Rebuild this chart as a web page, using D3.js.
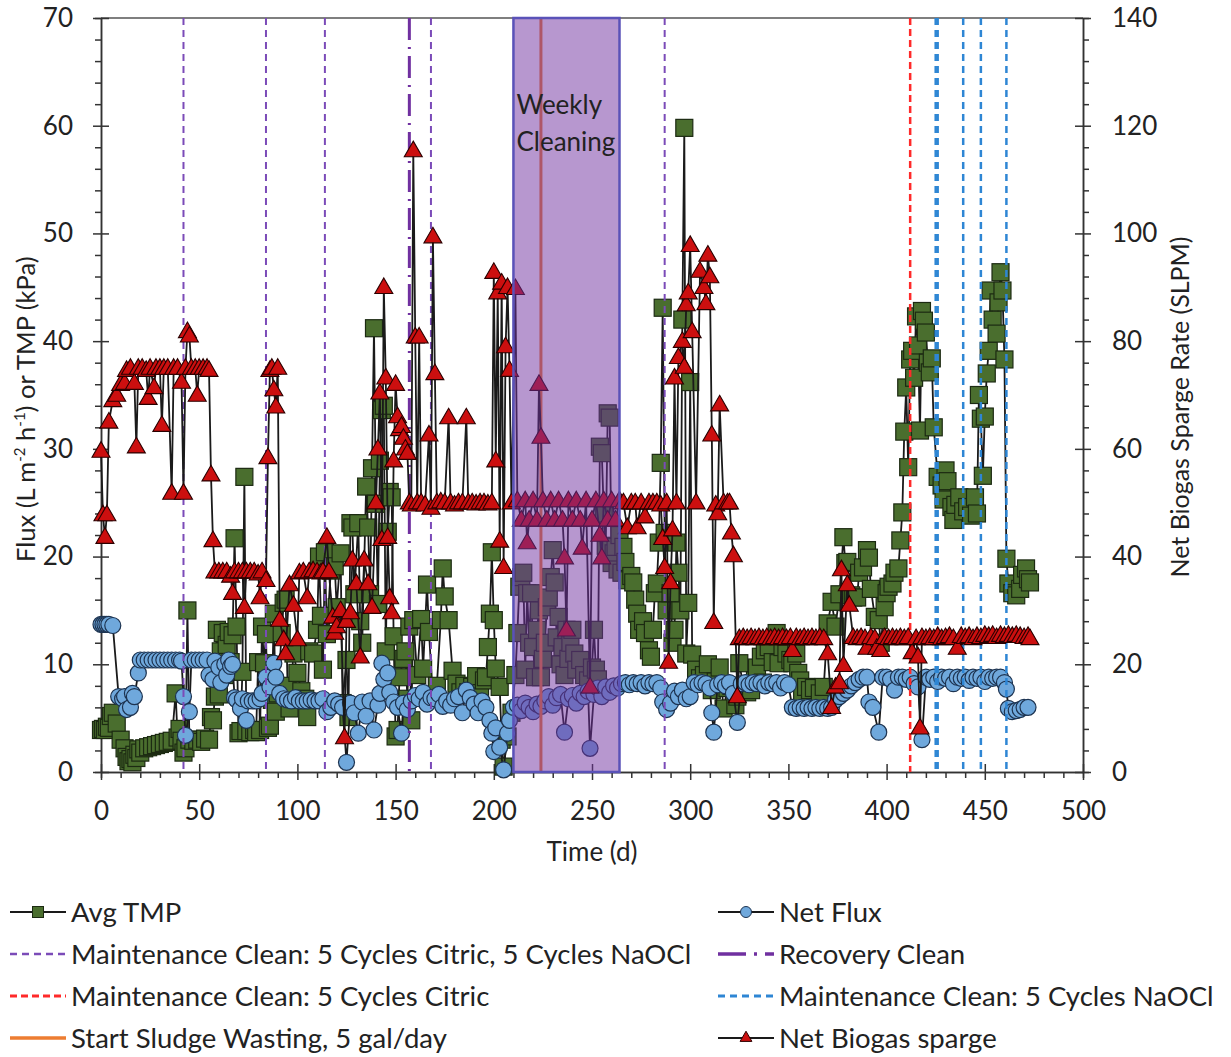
<!DOCTYPE html>
<html>
<head>
<meta charset="utf-8">
<script src="https://d3js.org/d3.v7.min.js"></script>
<style>
  body { margin: 0; background: #fff; }
  text { font-family: Lato, "Liberation Sans", sans-serif; fill: #222; }
</style>
</head>
<body>
<div id="my_dataviz"></div>
<script>

// ---- data ----
// day, kPa
var avgTMP = [[0,3.9],[1,4.0],[2,3.9],[3,4.2],[4,4.1],[5,5.2],[6,5.5],[8,4.5],[10,3.0],[12,2.2],[13,1.4],[14,1.0],[15,1.2],[16,0.9],[17,1.6],[18,1.3],[19,2.1],[20,1.8],[22,2.2],[24,2.3],[26,2.4],[28,2.5],[30,2.6],[32,2.7],[34,2.8],[36,2.9],[38,7.3],[39,3.2],[40,4.0],[41,2.9],[42,1.8],[43,2.2],[44,15.0],[45,3.0],[47,2.9],[49,3.0],[51,2.8],[53,3.1],[55,3.0],[56,5.1],[57,4.8],[58,7.0],[59,13.2],[60,7.2],[61,11.2],[62,12.9],[63,9.0],[64,11.8],[65,13.0],[66,10.2],[67,12.7],[68,21.7],[69,13.5],[70,3.6],[71,3.8],[72,9.3],[73,27.4],[74,3.8],[76,3.7],[78,3.9],[79,3.7],[80,10.2],[81,3.9],[82,13.5],[83,10.1],[84,12.8],[85,4.1],[86,4.3],[87,6.7],[88,14.7],[89,5.6],[90,7.3],[92,12.9],[93,15.7],[94,16.0],[95,8.0],[96,5.9],[98,11.0],[100,9.2],[102,7.5],[104,6.8],[105,5.1],[106,11.2],[108,11.0],[110,13.2],[111,20.0],[112,14.5],[113,9.5],[114,20.4],[115,12.8],[117,18.7],[119,19.1],[120,15.3],[122,20.3],[123,6.4],[125,10.4],[126,5.1],[127,23.1],[128,22.7],[129,16.5],[131,23.1],[132,14.0],[133,12.0],[135,26.5],[136,22.7],[137,16.5],[138,28.2],[139,41.2],[140,24.9],[141,15.6],[142,28.9],[143,33.6],[144,34.0],[145,11.2],[146,22.3],[147,26.0],[148,25.5],[149,12.6],[150,3.3],[151,3.9],[152,8.8],[154,10.5],[155,11.2],[156,6.8],[157,13.5],[158,4.8],[159,14.1],[161,9.0],[163,14.2],[164,9.6],[166,17.4],[167,13.0],[169,6.8],[171,8.0],[173,14.1],[174,18.9],[175,16.3],[177,14.1],[179,9.4],[181,8.2],[183,7.4],[185,8.0],[187,7.4],[189,7.9],[191,8.9],[193,7.0],[195,8.5],[196,8.8],[197,11.6],[198,14.7],[199,20.4],[200,14.1],[201,9.6],[203,7.9],[204,3.0],[205,0.5],[207,3.3],[209,5.5],[211,9.0],[212,12.9],[213,17.2],[214,18.1],[215,18.5],[216,9.5],[217,16.6],[218,12.0],[219,16.6],[220,11.6],[221,8.8],[222,13.2],[223,15.0],[224,8.8],[225,10.5],[226,12.0],[227,15.3],[228,16.2],[229,18.1],[230,20.6],[231,17.6],[232,12.5],[233,14.4],[234,10.0],[235,11.6],[236,9.0],[237,13.2],[238,10.5],[239,12.0],[240,13.2],[241,11.0],[242,9.5],[244,10.4],[246,9.0],[248,8.5],[250,9.7],[251,13.2],[252,9.5],[253,8.6],[254,30.2],[255,29.6],[256,24.0],[257,21.0],[258,33.3],[259,32.9],[260,19.4],[261,20.3],[262,20.9],[263,18.8],[264,22.0],[265,18.5],[266,20.9],[267,19.5],[268,17.8],[270,18.2],[271,17.6],[272,16.0],[273,14.7],[274,13.2],[276,14.0],[277,12.9],[279,11.3],[280,10.7],[281,13.2],[282,16.6],[283,17.5],[284,21.3],[285,28.7],[286,43.1],[287,22.2],[288,15.0],[290,16.6],[291,12.0],[292,13.2],[293,21.3],[294,18.5],[295,15.0],[296,42.0],[297,59.8],[298,11.0],[299,15.7],[300,36.2],[301,10.9],[303,9.5],[305,8.7],[307,9.0],[309,10.0],[311,7.6],[313,8.4],[315,9.7],[317,5.9],[319,7.8],[321,8.0],[323,6.2],[324,7.0],[325,10.1],[327,8.0],[329,7.4],[331,7.6],[333,8.5],[334,9.7],[336,10.7],[337,8.3],[338,11.3],[340,11.6],[342,10.2],[344,12.9],[345,10.1],[347,11.6],[349,11.0],[351,10.4],[352,10.1],[354,11.0],[355,9.2],[356,8.5],[357,7.3],[359,7.9],[361,7.6],[363,7.8],[366,7.3],[368,7.9],[370,13.8],[372,15.8],[374,13.5],[376,16.5],[378,21.8],[379,19.4],[380,19.5],[382,16.4],[383,16.2],[385,16.2],[386,18.5],[388,19.0],[390,20.6],[391,19.9],[392,17.0],[394,14.4],[396,14.1],[397,12.0],[399,15.3],[400,16.6],[401,17.2],[403,17.5],[404,18.5],[406,18.9],[407,21.5],[408,24.1],[409,31.6],[410,35.7],[411,28.3],[412,38.3],[413,39.1],[414,36.6],[415,42.3],[416,39.6],[417,31.7],[418,42.8],[419,41.9],[420,40.8],[421,38.0],[422,37.1],[423,38.4],[424,32.0],[426,27.4],[428,26.6],[429,25.3],[430,28.0],[431,27.0],[433,24.6],[434,23.4],[435,24.8],[437,25.5],[439,24.2],[441,24.6],[443,23.8],[445,25.5],[446,24.0],[447,35.0],[448,32.8],[449,27.5],[450,33.0],[451,37.0],[452,39.1],[453,44.7],[454,42.0],[456,40.7],[457,43.6],[458,46.4],[459,44.7],[460,38.3],[461,19.8],[462,17.5],[464,16.6],[466,16.4],[468,17.0],[469,18.3],[471,18.9],[472,17.9],[473,17.6]];

// day, L m-2 h-1
var netFlux = [[0,13.7],[1,13.7],[2,13.7],[3,13.7],[4,13.7],[6,13.6],[9,7.0],[11,6.8],[12,7.0],[13,5.8],[15,6.0],[16,7.3],[17,7.0],[19,9.2],[20,10.4],[22,10.4],[24,10.4],[26,10.4],[28,10.4],[30,10.4],[32,10.4],[34,10.4],[36,10.4],[38,10.4],[40,10.4],[41,10.3],[42,7.0],[43,3.4],[45,5.6],[46,10.4],[48,10.4],[50,10.4],[52,10.4],[54,10.4],[55,9.0],[57,8.6],[58,10.3],[60,9.7],[61,8.3],[63,10.0],[64,9.0],[65,10.4],[66,9.8],[67,10.0],[68,6.9],[69,6.7],[71,5.9],[72,6.8],[74,4.8],[75,6.6],[77,6.6],[79,6.6],[81,6.8],[82,7.3],[84,8.8],[86,7.9],[88,10.1],[89,8.8],[91,7.3],[93,6.8],[95,6.7],[97,6.6],[99,6.9],[101,6.6],[103,6.6],[105,6.6],[107,6.7],[109,6.6],[111,6.6],[113,6.8],[115,5.6],[117,6.0],[119,6.6],[121,6.3],[123,6.0],[125,0.9],[127,6.4],[129,5.5],[131,3.6],[133,6.5],[135,5.2],[137,6.6],[139,3.9],[141,6.2],[142,7.3],[143,10.1],[144,8.6],[146,9.2],[147,7.4],[149,6.5],[151,6.0],[153,3.6],[154,6.4],[156,5.8],[158,6.6],[160,7.1],[162,6.8],[164,7.4],[166,6.3],[168,6.9],[170,6.8],[172,7.2],[174,6.1],[176,6.6],[178,6.2],[180,6.8],[182,7.0],[184,5.5],[186,7.6],[188,6.9],[190,6.3],[192,5.5],[194,6.6],[196,6.0],[198,4.8],[199,3.6],[200,1.9],[201,4.1],[203,2.3],[205,0.2],[207,3.6],[208,4.8],[210,6.0],[212,6.2],[214,5.7],[216,6.4],[218,6.0],[220,5.6],[222,6.3],[224,6.1],[226,6.6],[228,7.0],[230,6.2],[232,6.9],[234,7.2],[236,3.7],[238,6.8],[240,7.1],[242,6.4],[244,7.3],[246,7.0],[248,7.5],[249,2.2],[251,7.2],[253,7.8],[255,7.0],[257,7.9],[259,7.4],[261,8.0],[263,7.8],[265,8.2],[267,8.3],[269,8.1],[271,8.3],[273,8.2],[275,8.3],[277,8.0],[279,8.3],[281,8.2],[283,8.3],[285,7.8],[286,6.5],[288,5.8],[290,6.4],[292,7.5],[294,7.0],[296,7.6],[298,6.8],[300,7.0],[302,8.3],[304,8.1],[306,8.3],[308,8.2],[310,7.8],[311,5.5],[312,3.7],[314,8.1],[316,8.3],[318,8.0],[320,8.3],[322,7.3],[324,4.6],[326,8.2],[328,8.3],[330,8.1],[332,8.3],[334,8.2],[336,8.3],[338,8.0],[340,8.3],[342,8.2],[344,8.3],[346,7.8],[348,8.3],[350,8.1],[352,6.0],[354,5.9],[356,6.0],[358,5.9],[360,6.0],[362,5.9],[364,6.0],[366,5.9],[368,6.0],[370,5.9],[372,6.0],[374,6.7],[376,7.0],[378,7.3],[380,7.6],[382,8.0],[384,8.3],[386,8.6],[388,8.8],[390,8.8],[391,6.5],[393,6.0],[396,3.7],[398,8.8],[400,8.8],[402,8.6],[404,7.6],[406,8.8],[408,8.8],[410,8.6],[412,8.8],[414,8.2],[416,7.9],[418,3.0],[420,8.8],[422,8.6],[424,8.8],[426,8.4],[428,8.8],[430,8.7],[432,8.8],[434,8.2],[436,8.8],[438,8.7],[440,8.8],[442,8.5],[444,8.8],[446,8.7],[448,8.8],[450,8.4],[452,8.8],[454,8.7],[456,8.8],[458,8.8],[460,8.3],[461,7.7],[462,5.9],[464,5.6],[466,5.7],[468,5.8],[470,6.0],[472,6.0]];

// day, SLPM (right axis)
var netBiogas = [[0,59.6],[1,47.8],[2,43.6],[3,47.8],[4,65.0],[6,69.0],[8,70.0],[10,72.0],[12,72.2],[13,74.6],[15,75.0],[17,72.2],[18,60.4],[19,75.0],[21,75.0],[23,74.6],[24,69.4],[25,75.0],[27,71.4],[28,75.0],[30,75.0],[31,64.4],[32,75.0],[34,75.0],[36,51.8],[37,75.0],[39,75.0],[41,72.4],[42,51.8],[43,75.0],[44,81.8],[45,81.0],[46,75.0],[48,75.0],[49,70.0],[50,75.0],[52,75.0],[54,75.0],[55,74.6],[56,55.2],[57,43.0],[58,37.2],[60,37.2],[62,37.2],[64,37.2],[66,36.4],[67,33.2],[68,37.2],[70,37.2],[72,37.2],[73,30.6],[74,37.2],[76,37.2],[78,37.2],[80,36.8],[81,32.4],[82,37.2],[84,35.6],[85,58.4],[86,74.6],[87,75.0],[88,71.0],[89,67.8],[90,75.0],[91,28.2],[93,24.6],[94,22.0],[96,34.8],[98,31.0],[100,24.6],[101,37.0],[103,37.2],[105,32.4],[106,37.2],[108,37.4],[110,37.2],[112,37.0],[113,37.2],[115,43.6],[116,37.2],[118,28.8],[119,25.8],[120,27.0],[122,30.0],[124,6.4],[125,28.0],[127,29.6],[128,39.4],[130,35.0],[132,21.4],[134,39.4],[136,35.0],[138,30.6],[140,50.0],[141,60.0],[142,70.4],[143,43.2],[144,90.0],[145,73.2],[146,43.6],[147,32.4],[148,29.6],[149,57.8],[150,72.0],[151,66.0],[152,63.6],[153,64.2],[154,62.0],[155,60.0],[156,59.2],[157,50.0],[158,49.6],[159,115.4],[160,80.8],[161,50.0],[162,80.8],[163,50.0],[165,49.6],[167,62.6],[168,49.0],[169,99.4],[170,74.0],[171,50.0],[173,50.2],[175,50.0],[177,65.8],[178,50.0],[180,49.6],[182,50.0],[184,50.0],[186,65.8],[187,50.0],[189,50.0],[191,49.8],[193,50.0],[195,50.0],[197,49.8],[199,50.0],[200,92.8],[201,57.8],[202,89.0],[203,42.9],[204,90.8],[205,38.0],[206,79.0],[207,90.0],[208,74.6],[209,50.0],[211,89.8],[212,50.4],[214,46.8],[216,50.4],[217,42.6],[218,46.8],[220,50.4],[222,46.8],[223,72.0],[224,62.2],[225,50.4],[227,46.8],[229,50.4],[231,46.8],[233,50.4],[235,46.8],[236,39.8],[237,26.4],[238,50.4],[240,46.8],[242,50.4],[244,46.8],[245,41.6],[247,50.4],[249,15.8],[250,46.8],[252,50.4],[254,44.0],[255,39.8],[256,50.4],[258,46.8],[260,50.4],[262,46.8],[264,50.4],[266,50.0],[268,45.4],[270,50.0],[272,50.0],[273,45.4],[275,50.0],[277,47.4],[279,50.0],[281,50.0],[283,50.0],[285,49.6],[286,43.4],[287,38.0],[288,50.0],[289,20.4],[290,35.2],[291,45.0],[292,73.2],[293,50.0],[294,77.0],[296,80.0],[297,75.2],[298,86.8],[299,89.0],[300,97.8],[301,81.8],[303,50.0],[305,93.0],[307,90.0],[308,87.0],[309,96.0],[310,92.0],[311,62.6],[312,27.8],[313,49.6],[314,48.0],[315,68.2],[317,50.0],[319,50.0],[320,50.0],[321,44.4],[322,40.2],[324,14.0],[325,24.8],[327,25.0],[329,24.8],[331,25.0],[333,24.8],[335,25.0],[337,24.8],[339,25.0],[341,24.8],[343,25.0],[345,24.8],[347,25.0],[349,24.8],[351,25.0],[352,22.6],[354,25.0],[356,24.8],[358,25.0],[360,24.8],[362,25.0],[364,24.8],[366,25.0],[368,24.8],[370,22.0],[372,12.0],[374,15.8],[376,16.6],[377,37.6],[378,19.8],[380,34.8],[381,31.0],[383,25.0],[385,24.8],[387,25.0],[389,24.8],[390,23.0],[392,25.0],[394,24.8],[395,23.0],[397,22.6],[399,25.0],[401,24.8],[403,25.0],[405,24.8],[407,25.0],[409,24.8],[411,25.0],[413,22.2],[415,24.8],[416,21.4],[417,8.2],[418,25.0],[420,24.8],[422,25.0],[424,24.8],[426,25.2],[428,24.8],[430,25.0],[432,25.2],[434,24.8],[436,23.0],[438,25.2],[440,25.0],[442,25.2],[444,24.8],[446,25.2],[448,25.0],[450,25.4],[452,25.2],[454,25.4],[456,25.0],[458,25.4],[460,25.2],[462,25.4],[464,25.2],[466,25.4],[468,25.2],[470,25.0],[472,25.2],[473,24.8]];

// event days
var maintBoth = [42, 84, 114, 168, 287];   // 5 cycles citric + 5 cycles NaOCl
var recoveryClean = [157];
var maintCitric = [412];
var maintNaOCl = [425, 426, 439, 448, 461];
var sludgeStart = [224];
var weeklyCleaning = [210, 264];

var xTicks = [0, 50, 100, 150, 200, 250, 300, 350, 400, 450, 500];
var yLeftTicks = [0, 10, 20, 30, 40, 50, 60, 70];
var yRightTicks = [0, 20, 40, 60, 80, 100, 120, 140];

var legendItems = [
  {name: "Avg TMP", kind: "tmp"},
  {name: "Net Flux", kind: "flux"},
  {name: "Maintenance Clean: 5 Cycles Citric, 5 Cycles NaOCl", kind: "both"},
  {name: "Recovery Clean", kind: "recovery"},
  {name: "Maintenance Clean: 5 Cycles Citric", kind: "citric"},
  {name: "Maintenance Clean: 5 Cycles NaOCl", kind: "naocl"},
  {name: "Start Sludge Wasting, 5 gal/day", kind: "sludge"},
  {name: "Net Biogas sparge", kind: "biogas"}
];

// ---- layout ----
var W = 1231, H = 1057;
var plotL = 101, plotR = 1083, plotT = 18, plotB = 772;

var svg = d3.select("#my_dataviz").append("svg")
  .attr("width", W).attr("height", H);
svg.append("rect").attr("width", W).attr("height", H).attr("fill", "#fff");

var x = d3.scaleLinear().domain([0, 500]).range([plotL, plotR]);
var yL = d3.scaleLinear().domain([0, 70]).range([plotB, plotT]);
var yR = d3.scaleLinear().domain([0, 140]).range([plotB, plotT]);

var styles = {
  both:     {stroke: "#7b4bb8", width: 2,   dash: "7,5"},
  recovery: {stroke: "#7030a0", width: 3,   dash: "22,7,2,7"},
  citric:   {stroke: "#ff2a2a", width: 2.5, dash: "7,4"},
  naocl:    {stroke: "#2e86d4", width: 2.5, dash: "7,5"},
  sludge:   {stroke: "#ed7d31", width: 3,   dash: null}
};

// top border
svg.append("line")
  .attr("x1", plotL).attr("x2", plotR).attr("y1", plotT).attr("y2", plotT)
  .attr("stroke", "#555").attr("stroke-width", 1.5);

// ---- axes ----
function styleAxis(g) {
  g.select(".domain").attr("stroke", "#333").attr("stroke-width", 1.5);
  g.selectAll(".tick line").attr("stroke", "#333").attr("stroke-width", 1.5);
  g.selectAll(".tick text").attr("font-size", "26px").attr("fill", "#222")
    .attr("font-family", "Lato, 'Liberation Sans', sans-serif");
}

var minorX = d3.range(0, 501, 10).filter(function(d) { return d % 50 !== 0; });
var minorYL = d3.range(0, 71, 2).filter(function(d) { return d % 10 !== 0; });
var minorYR = d3.range(0, 141, 4).filter(function(d) { return d % 20 !== 0; });

var gx = svg.append("g").attr("transform", "translate(0," + plotB + ")")
  .call(d3.axisBottom(x).tickValues(xTicks).tickSizeInner(8).tickSizeOuter(0).tickPadding(22));
gx.selectAll(".tick line").attr("y1", -8);
styleAxis(gx);
var gx2 = svg.append("g").attr("transform", "translate(0," + plotB + ")")
  .call(d3.axisBottom(x).tickValues(minorX).tickSize(6).tickFormat(""));
styleAxis(gx2);

var gyl = svg.append("g").attr("transform", "translate(" + plotL + ",0)")
  .call(d3.axisLeft(yL).tickValues(yLeftTicks).tickSizeInner(8).tickSizeOuter(0).tickPadding(20));
gyl.selectAll(".tick line").attr("x1", 8);
styleAxis(gyl);
var gyl2 = svg.append("g").attr("transform", "translate(" + plotL + ",0)")
  .call(d3.axisLeft(yL).tickValues(minorYL).tickSize(6).tickFormat(""));
styleAxis(gyl2);

var gyr = svg.append("g").attr("transform", "translate(" + plotR + ",0)")
  .call(d3.axisRight(yR).tickValues(yRightTicks).tickSizeInner(8).tickSizeOuter(0).tickPadding(21));
gyr.selectAll(".tick line").attr("x1", -8);
styleAxis(gyr);
var gyr2 = svg.append("g").attr("transform", "translate(" + plotR + ",0)")
  .call(d3.axisRight(yR).tickValues(minorYR).tickSize(6).tickFormat(""));
styleAxis(gyr2);

// axis titles
svg.append("text")
  .attr("x", 592).attr("y", 861).attr("text-anchor", "middle")
  .attr("font-size", "26px").text("Time (d)");

// left title starts at the bottom and runs upward
var lt = svg.append("text")
  .attr("transform", "translate(35,562) rotate(-90)")
  .attr("text-anchor", "start").attr("font-size", "25.5px");
lt.append("tspan").text("Flux (L m");
lt.append("tspan").attr("font-size", "15px").attr("dy", -10).text("-2");
lt.append("tspan").attr("dy", 10).text(" h");
lt.append("tspan").attr("font-size", "15px").attr("dy", -10).text("-1");
lt.append("tspan").attr("dy", 10).text(") or TMP (kPa)");

svg.append("text")
  .attr("transform", "translate(1189,407) rotate(-90)")
  .attr("text-anchor", "middle").attr("font-size", "25px")
  .text("Net Biogas Sparge Rate (SLPM)");

// ---- series drawing helpers ----
var lineL = d3.line().x(function(d) { return x(d[0]); }).y(function(d) { return yL(d[1]); });
var lineR = d3.line().x(function(d) { return x(d[0]); }).y(function(d) { return yR(d[1]); });

function vlines(days, st) {
  svg.append("g").selectAll("line").data(days).enter().append("line")
    .attr("x1", function(d) { return x(d); }).attr("x2", function(d) { return x(d); })
    .attr("y1", plotT).attr("y2", plotB)
    .attr("stroke", st.stroke).attr("stroke-width", st.width)
    .attr("stroke-dasharray", st.dash);
}

// Avg TMP
svg.append("path").datum(avgTMP)
  .attr("fill", "none").attr("stroke", "#1a1a1a").attr("stroke-width", 1.8)
  .attr("d", lineL);
svg.append("g").selectAll("rect").data(avgTMP).enter().append("rect")
  .attr("x", function(d) { return x(d[0]) - 8.5; })
  .attr("y", function(d) { return yL(d[1]) - 8.5; })
  .attr("width", 17).attr("height", 17)
  .attr("fill", "#4a6e2e").attr("stroke", "#1c2a12").attr("stroke-width", 1.2);

// Net Flux
svg.append("path").datum(netFlux)
  .attr("fill", "none").attr("stroke", "#1a1a1a").attr("stroke-width", 1.8)
  .attr("d", lineL);
svg.append("g").selectAll("circle").data(netFlux).enter().append("circle")
  .attr("cx", function(d) { return x(d[0]); })
  .attr("cy", function(d) { return yL(d[1]); })
  .attr("r", 8)
  .attr("fill", "#6fa8dc").attr("stroke", "#1d3350").attr("stroke-width", 1.2);

// event lines
vlines(maintBoth, styles.both);
vlines(recoveryClean, styles.recovery);
vlines(maintCitric, styles.citric);
vlines(maintNaOCl, styles.naocl);
vlines(sludgeStart, styles.sludge);

// Net Biogas (secondary axis)
var tri = d3.symbol().type(d3.symbolTriangle).size(140);
svg.append("path").datum(netBiogas)
  .attr("fill", "none").attr("stroke", "#1a1a1a").attr("stroke-width", 1.8)
  .attr("d", lineR);
svg.append("g").selectAll("path").data(netBiogas).enter().append("path")
  .attr("d", tri)
  .attr("transform", function(d) { return "translate(" + x(d[0]) + "," + (yR(d[1]) + 1) + ")"; })
  .attr("fill", "#cc0f0f").attr("stroke", "#2a0000").attr("stroke-width", 1.1);

// weekly cleaning overlay
svg.append("rect")
  .attr("x", x(weeklyCleaning[0])).attr("y", plotT)
  .attr("width", x(weeklyCleaning[1]) - x(weeklyCleaning[0]))
  .attr("height", plotB - plotT)
  .attr("fill", "rgba(112,48,160,0.5)")
  .attr("stroke", "#5a52b8").attr("stroke-width", 2.5);
svg.append("text").attr("x", x(weeklyCleaning[0]) + 3).attr("y", 114)
  .attr("font-size", "26px").attr("fill", "#2a1f3d").text("Weekly");
svg.append("text").attr("x", x(weeklyCleaning[0]) + 3).attr("y", 151)
  .attr("font-size", "26px").attr("fill", "#2a1f3d").text("Cleaning");

// ---- legend ----
var legend = svg.append("g");
legendItems.forEach(function(item, i) {
  var col = i % 2, row = Math.floor(i / 2);
  var x0 = col === 0 ? 10 : 718;
  var cy = 912 + row * 42;
  var g = legend.append("g");
  var st = styles[item.kind];
  if (st) {
    g.append("line").attr("x1", x0).attr("x2", x0 + 56).attr("y1", cy).attr("y2", cy)
      .attr("stroke", st.stroke).attr("stroke-width", st.width + 0.5)
      .attr("stroke-dasharray", item.kind === "recovery" ? "28,8,3,8" : st.dash);
  } else {
    g.append("line").attr("x1", x0).attr("x2", x0 + 56).attr("y1", cy).attr("y2", cy)
      .attr("stroke", "#1a1a1a").attr("stroke-width", 2);
    var mx = x0 + 28;
    if (item.kind === "tmp") {
      g.append("rect").attr("x", mx - 5.5).attr("y", cy - 5.5).attr("width", 11).attr("height", 11)
        .attr("fill", "#4a6e2e").attr("stroke", "#1c2a12");
    } else if (item.kind === "flux") {
      g.append("circle").attr("cx", mx).attr("cy", cy).attr("r", 5.5)
        .attr("fill", "#6fa8dc").attr("stroke", "#1d3350");
    } else {
      g.append("path").attr("d", d3.symbol().type(d3.symbolTriangle).size(60))
        .attr("transform", "translate(" + mx + "," + cy + ")")
        .attr("fill", "#cc0f0f").attr("stroke", "#2a0000");
    }
  }
  g.append("text").attr("x", x0 + 61).attr("y", cy + 10)
    .attr("font-size", "27.5px").text(item.name);
});

</script>
</body>
</html>
